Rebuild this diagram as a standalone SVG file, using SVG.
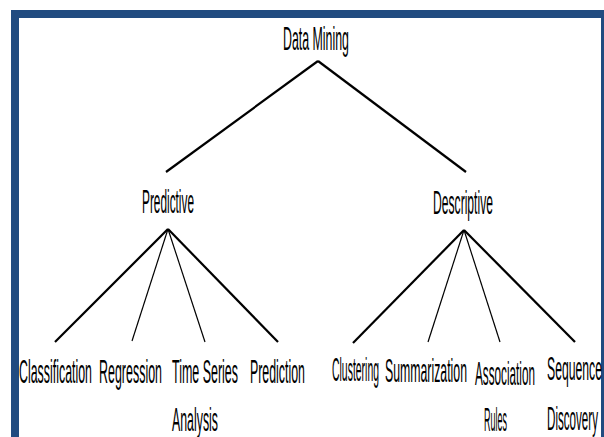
<svg xmlns="http://www.w3.org/2000/svg" width="604" height="437" viewBox="0 0 604 437">
<style>
text{font-family:"Liberation Sans",Arial,sans-serif;font-size:33px;fill:#000;}
.thick{stroke:#000;stroke-width:2.2;fill:none;}
.thin{stroke:#000;stroke-width:1.2;fill:none;}
</style>
<rect x="0" y="0" width="604" height="437" fill="#fff"/>
<rect x="15" y="14" width="590" height="440" fill="#fff" stroke="#214b80" stroke-width="8"/>
<g id="connectors">
<line class="thick" x1="318" y1="61" x2="166" y2="172"/>
<line class="thick" x1="318" y1="61" x2="466" y2="172"/>
<line class="thick" x1="168" y1="229" x2="55" y2="342"/>
<line class="thin" x1="168" y1="229" x2="132" y2="341"/>
<line class="thin" x1="168" y1="229" x2="205" y2="342"/>
<line class="thick" x1="168" y1="229" x2="278" y2="342"/>
<line class="thick" x1="464" y1="230" x2="353" y2="343"/>
<line class="thin" x1="464" y1="230" x2="428" y2="342"/>
<line class="thin" x1="464" y1="230" x2="500" y2="342"/>
<line class="thick" x1="464" y1="230" x2="575" y2="342"/>
</g>
<g id="node-data-mining"><text x="283" y="50" textLength="66" lengthAdjust="spacingAndGlyphs">Data Mining</text></g>
<g id="node-predictive"><text x="142" y="213" textLength="52" lengthAdjust="spacingAndGlyphs">Predictive</text></g>
<g id="node-descriptive"><text x="433" y="214" textLength="60" lengthAdjust="spacingAndGlyphs">Descriptive</text></g>
<g id="node-classification"><text x="19" y="383" textLength="73" lengthAdjust="spacingAndGlyphs">Classification</text></g>
<g id="node-regression"><text x="99" y="383" textLength="63" lengthAdjust="spacingAndGlyphs">Regression</text></g>
<g id="node-time-series"><text x="172" y="383" textLength="66" lengthAdjust="spacingAndGlyphs">Time Series</text><text x="172" y="431" textLength="46" lengthAdjust="spacingAndGlyphs">Analysis</text></g>
<g id="node-prediction"><text x="250" y="383" textLength="55" lengthAdjust="spacingAndGlyphs">Prediction</text></g>
<g id="node-clustering"><text x="332" y="381" textLength="47" lengthAdjust="spacingAndGlyphs">Clustering</text></g>
<g id="node-summarization"><text x="385" y="382" textLength="82" lengthAdjust="spacingAndGlyphs">Summarization</text></g>
<g id="node-association-rules"><text x="475" y="385" textLength="60" lengthAdjust="spacingAndGlyphs">Association</text><text x="484" y="431" textLength="23" lengthAdjust="spacingAndGlyphs">Rules</text></g>
<g id="node-sequence-discovery"><text x="547" y="380" textLength="55" lengthAdjust="spacingAndGlyphs">Sequence</text><text x="547" y="430" textLength="51" lengthAdjust="spacingAndGlyphs">Discovery</text></g>
</svg>
